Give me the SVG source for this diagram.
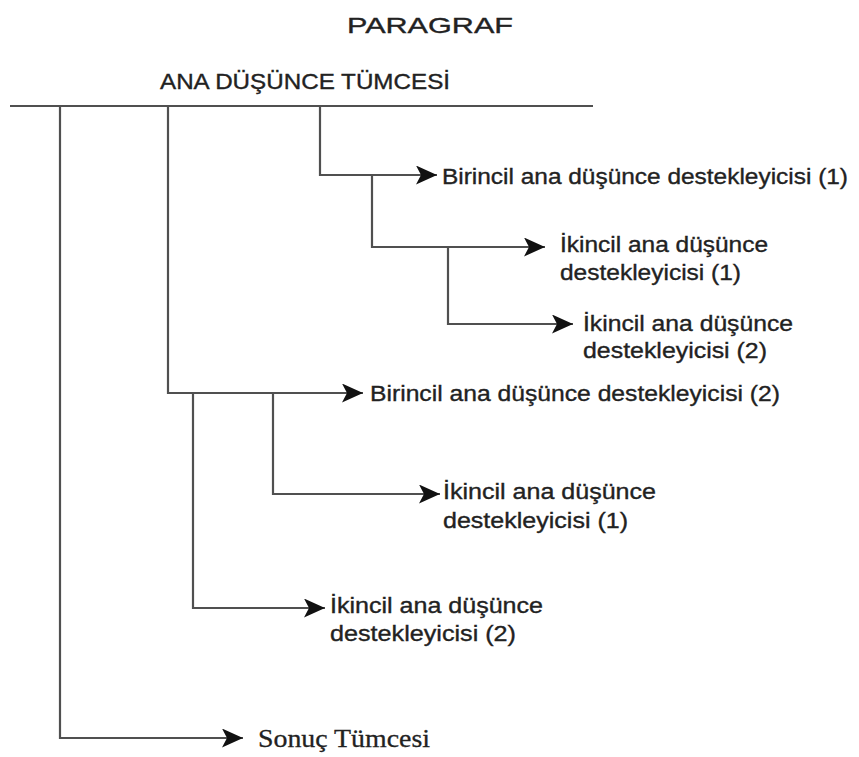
<svg xmlns="http://www.w3.org/2000/svg" width="859" height="757" viewBox="0 0 859 757">
<style>
.c{fill:none;stroke:#505050;stroke-width:2.2}
.t{font-family:"Liberation Sans",Arial,sans-serif;fill:#222;stroke:#222;stroke-width:0.35;font-size:22px}
.s{font-family:"Liberation Serif","Times New Roman",serif;fill:#222;stroke:#222;stroke-width:0.3;font-size:26px}
</style>
<defs>
<marker id="ah" markerUnits="userSpaceOnUse" markerWidth="21" markerHeight="19" refX="21" refY="9.5" orient="auto" viewBox="0 0 21 19">
<path d="M0,0 L21,9.5 L0,19 L5,9.5 Z" fill="#111"/>
</marker>
</defs>
<rect width="859" height="757" fill="#fff"/>
<g id="title"><text class="t" x="347" y="33" font-size="31" textLength="166" lengthAdjust="spacingAndGlyphs">PARAGRAF</text></g>
<g id="connectors">
<path class="c" d="M10,106 H593"/>
<path class="c" d="M60,106 V738 H243" marker-end="url(#ah)"/>
<path class="c" d="M168,106 V393 H363" marker-end="url(#ah)"/>
<path class="c" d="M320,106 V175 H437" marker-end="url(#ah)"/>
<path class="c" d="M372,175 V247 H545" marker-end="url(#ah)"/>
<path class="c" d="M448,247 V324 H573" marker-end="url(#ah)"/>
<path class="c" d="M193,393 V608 H325" marker-end="url(#ah)"/>
<path class="c" d="M273,393 V494 H440" marker-end="url(#ah)"/>
</g>
<g id="ana"><text class="t" x="160" y="89" font-size="23" textLength="290" lengthAdjust="spacingAndGlyphs">ANA DÜŞÜNCE TÜMCESİ</text></g>
<g id="birincil1"><text class="t" x="442" y="184" textLength="406" lengthAdjust="spacingAndGlyphs">Birincil ana düşünce destekleyicisi (1)</text></g>
<g id="ikincil1a"><text class="t" x="560" y="252" textLength="208" lengthAdjust="spacingAndGlyphs">İkincil ana düşünce</text><text class="t" x="560" y="280" textLength="181" lengthAdjust="spacingAndGlyphs">destekleyicisi (1)</text></g>
<g id="ikincil2a"><text class="t" x="583" y="331" textLength="210" lengthAdjust="spacingAndGlyphs">İkincil ana düşünce</text><text class="t" x="583" y="358" textLength="184" lengthAdjust="spacingAndGlyphs">destekleyicisi (2)</text></g>
<g id="birincil2"><text class="t" x="370" y="401" textLength="410" lengthAdjust="spacingAndGlyphs">Birincil ana düşünce destekleyicisi (2)</text></g>
<g id="ikincil1b"><text class="t" x="443" y="499" textLength="213" lengthAdjust="spacingAndGlyphs">İkincil ana düşünce</text><text class="t" x="443" y="528" textLength="185" lengthAdjust="spacingAndGlyphs">destekleyicisi (1)</text></g>
<g id="ikincil2b"><text class="t" x="330" y="613" textLength="213" lengthAdjust="spacingAndGlyphs">İkincil ana düşünce</text><text class="t" x="330" y="641" textLength="186" lengthAdjust="spacingAndGlyphs">destekleyicisi (2)</text></g>
<g id="sonuc"><text class="s" x="258" y="747" textLength="172" lengthAdjust="spacingAndGlyphs">Sonuç Tümcesi</text></g>
</svg>
